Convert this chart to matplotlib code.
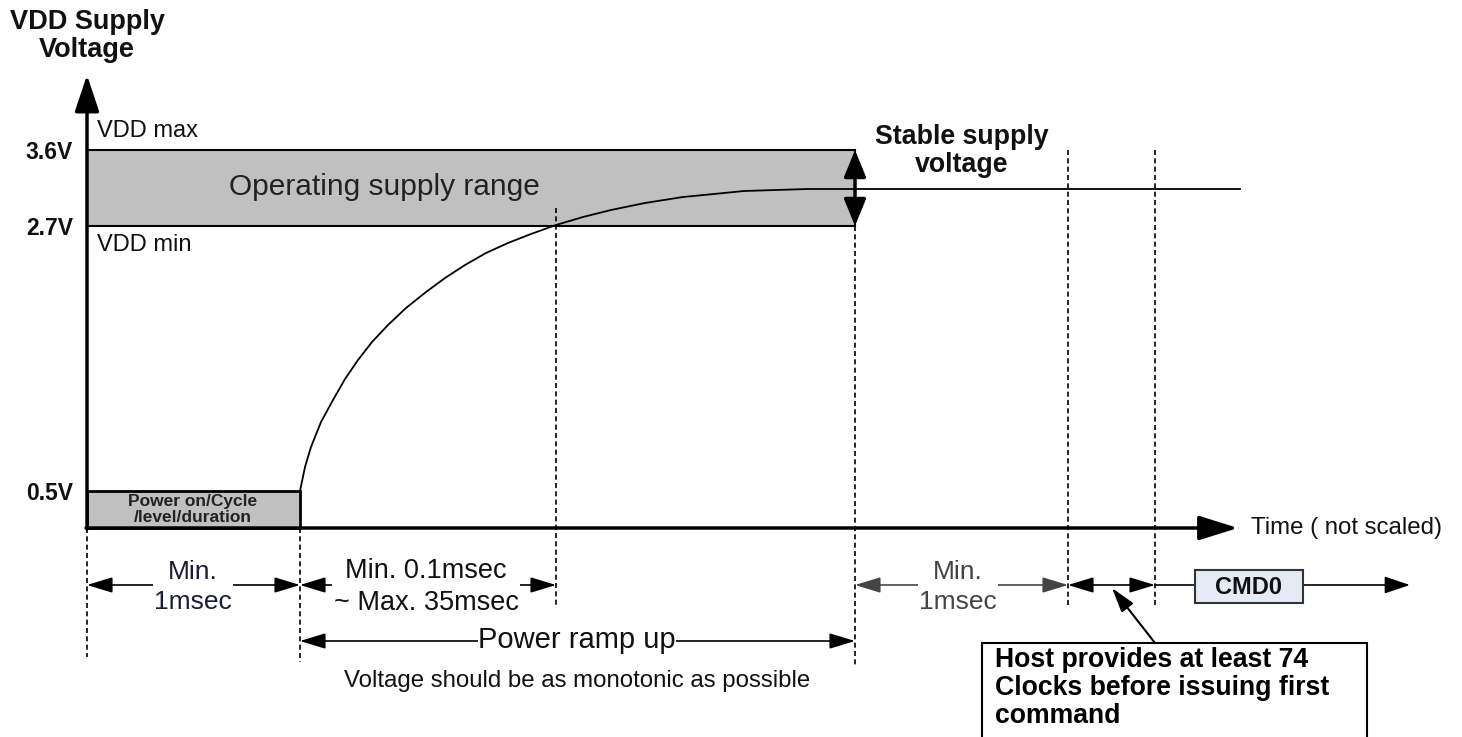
import matplotlib
matplotlib.use("Agg")
import matplotlib.pyplot as plt
from matplotlib.patches import Rectangle

plt.rcParams['font.family'] = ['Liberation Sans', 'DejaVu Sans']

# Diagram units (time is "not scaled", voltage levels are not to scale either)
axis_x0 = 87            # where the time axis starts (t = 0)
axis_y0 = 528           # 0 V level of the diagram
axis_x_end = 1238
axis_y_top = 75

volt_labels = ['3.6V', '2.7V', '0.5V']
volt_levels = [150, 226, 491]          # diagram level of each voltage label

# time markers along the axis
time_marks = [87, 300, 556, 855, 1068, 1155]

# power ramp
ramp_t = [300, 305, 311, 321, 333, 345, 358, 372, 388, 406, 426, 445, 465, 486,
          508, 531, 556, 583, 611, 645, 683, 714, 744, 776, 808, 1240]
ramp_v = [491, 467, 447, 422, 400, 379, 360, 342, 325, 308, 292, 278, 265, 253,
          243, 234, 225, 217, 210, 203, 197, 194, 191, 190, 189, 189]

band_color = '#c0c0c0'
ink = '#111111'

fig = plt.figure(figsize=(14.62, 7.37), dpi=100)
ax = fig.add_axes([0, 0, 1, 1])
ax.set_xlim(0, 1462)
ax.set_ylim(737, 0)
ax.axis('off')

# operating supply band
v_max, v_min, v_on = volt_levels
ax.add_patch(Rectangle((axis_x0, v_max), time_marks[3] - axis_x0, v_min - v_max,
                       facecolor=band_color, edgecolor='black', lw=1.5, zorder=1))
# power on box
ax.add_patch(Rectangle((axis_x0, v_on), time_marks[1] - axis_x0, axis_y0 - v_on,
                       facecolor=band_color, edgecolor='black', lw=2, zorder=1))

# ramp curve
ax.plot(ramp_t, ramp_v, color='black', lw=1.3, zorder=3)

# axes with arrow heads
ax.annotate('', xy=(axis_x0, axis_y_top), xytext=(axis_x0, axis_y0 + 1),
            arrowprops=dict(arrowstyle='-|>,head_length=1.5,head_width=0.5',
                            color='black', lw=2.5, shrinkA=0, shrinkB=0,
                            mutation_scale=15), zorder=5)
ax.annotate('', xy=(axis_x_end, axis_y0), xytext=(axis_x0 - 1, axis_y0),
            arrowprops=dict(arrowstyle='-|>,head_length=1.6,head_width=0.5',
                            color='black', lw=2.5, shrinkA=0, shrinkB=0,
                            mutation_scale=15), zorder=5)

# dashed time markers: (x, top, bottom)
dash_spans = [(time_marks[0], axis_y0, 657), (time_marks[1], axis_y0, 662),
              (time_marks[2], 208, 607), (time_marks[3], v_min, 665),
              (time_marks[4], v_max, 605), (time_marks[5], v_max, 605)]
for x, y0, y1 in dash_spans:
    ax.plot([x, x], [y0, y1], color='black', lw=1.2, ls=(0, (3, 2)), zorder=2)

# stable supply double arrow
ax.annotate('', xy=(time_marks[3], v_max), xytext=(time_marks[3], v_min),
            arrowprops=dict(arrowstyle='<|-|>,head_length=1.1,head_width=0.45',
                            color='black', lw=2.5, shrinkA=0, shrinkB=0,
                            mutation_scale=15), zorder=4)


def dim_arrow(x0, x1, y, color='black', lw=1.2):
    ax.annotate('', xy=(x1, y), xytext=(x0, y),
                arrowprops=dict(arrowstyle='<|-|>,head_length=1.05,head_width=0.32',
                                color=color, lw=lw, shrinkA=0, shrinkB=0,
                                mutation_scale=15), zorder=3)


dim_y = 585
dim_arrow(time_marks[0], time_marks[1], dim_y)
dim_arrow(time_marks[1], time_marks[2], dim_y)
dim_arrow(time_marks[3], time_marks[4], dim_y, color='#444444')
dim_arrow(time_marks[4], time_marks[5], dim_y)
dim_arrow(time_marks[1], time_marks[3], 641)

# CMD0 box and following arrow
cmd_x0, cmd_x1 = 1195, 1303
ax.plot([time_marks[5], cmd_x0], [dim_y, dim_y], color='black', lw=1.2, zorder=3)
ax.add_patch(Rectangle((cmd_x0, 570), cmd_x1 - cmd_x0, 33, facecolor='#e4ebf5',
                       edgecolor='#333333', lw=1.5, zorder=4))
ax.annotate('', xy=(1410, dim_y), xytext=(cmd_x1, dim_y),
            arrowprops=dict(arrowstyle='-|>,head_length=1.05,head_width=0.35',
                            color='black', lw=1.2, shrinkA=0, shrinkB=0,
                            mutation_scale=15), zorder=3)
ax.text((cmd_x0 + cmd_x1) / 2, 587, 'CMD0', ha='center', va='center',
        fontsize=17, fontweight='bold', color=ink, zorder=5)

# texts
ax.text(87, 22, 'VDD Supply', ha='center', va='center', fontsize=19.5,
        fontweight='bold', color=ink)
ax.text(87, 50, 'Voltage', ha='center', va='center', fontsize=19.5,
        fontweight='bold', color=ink)
for lab, y in zip(volt_labels, volt_levels):
    ax.text(73, y + 2, lab, ha='right', va='center', fontsize=16.5,
            fontweight='bold', color=ink)
ax.text(97, 131, 'VDD max', ha='left', va='center', fontsize=17, color=ink)
ax.text(97, 245, 'VDD min', ha='left', va='center', fontsize=17, color=ink)
ax.text(384, 187, 'Operating supply range', ha='center', va='center',
        fontsize=21.5, color='#222222', zorder=4)
ax.text(193, 501, 'Power on/Cycle', ha='center', va='center', fontsize=12.5,
        fontweight='bold', color='#222222', zorder=4)
ax.text(193, 518, '/level/duration', ha='center', va='center', fontsize=12.5,
        fontweight='bold', color='#222222', zorder=4)
ax.text(962, 137, 'Stable supply', ha='center', va='center', fontsize=19.3,
        fontweight='bold', color=ink)
ax.text(962, 165, 'voltage', ha='center', va='center', fontsize=19.3,
        fontweight='bold', color=ink)
ax.text(1251, 528, 'Time ( not scaled)', ha='left', va='center', fontsize=17.3,
        color=ink)

wbox = dict(facecolor='white', edgecolor='none', pad=1)
ax.text(193, 587, 'Min.\n1msec', ha='center', va='center', fontsize=19,
        color='#1a1a3a', linespacing=1.3, bbox=wbox, zorder=4)
ax.text(426, 587, 'Min. 0.1msec\n~ Max. 35msec', ha='center', va='center',
        fontsize=19.5, color=ink, linespacing=1.3, bbox=wbox, zorder=4)
ax.text(958, 587, 'Min.\n1msec', ha='center', va='center', fontsize=19,
        color='#444444', linespacing=1.3, bbox=wbox, zorder=4)
ax.text(577, 640, 'Power ramp up', ha='center', va='center', fontsize=21,
        color=ink, bbox=dict(facecolor='white', edgecolor='none', pad=0), zorder=4)
ax.text(577, 681, 'Voltage should be as monotonic as possible', ha='center',
        va='center', fontsize=17.3, color=ink)

# host note box with pointer
ax.add_patch(Rectangle((982, 643), 385, 110, facecolor='white',
                       edgecolor='black', lw=1.5, zorder=4))
ax.annotate('', xy=(1112, 588), xytext=(1155, 643),
            arrowprops=dict(arrowstyle='-|>,head_length=1.0,head_width=0.3',
                            color='black', lw=1.5, shrinkA=0, shrinkB=0,
                            mutation_scale=15), zorder=4)
note_lines = ['Host provides at least 74', 'Clocks before issuing first', 'command']
for i, line in enumerate(note_lines):
    ax.text(995, 660 + 28 * i, line, ha='left', va='center', fontsize=19.2,
            fontweight='bold', color='black', zorder=5)

fig.savefig('out.png', dpi=100)
